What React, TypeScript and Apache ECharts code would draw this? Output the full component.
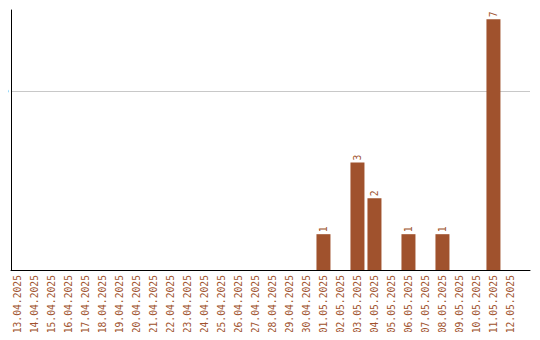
import React, { useEffect, useRef } from "react";
import * as echarts from "echarts";

const days: string[] = [
  "13.04.2025", "14.04.2025", "15.04.2025", "16.04.2025", "17.04.2025",
  "18.04.2025", "19.04.2025", "20.04.2025", "21.04.2025", "22.04.2025",
  "23.04.2025", "24.04.2025", "25.04.2025", "26.04.2025", "27.04.2025",
  "28.04.2025", "29.04.2025", "30.04.2025", "01.05.2025", "02.05.2025",
  "03.05.2025", "04.05.2025", "05.05.2025", "06.05.2025", "07.05.2025",
  "08.05.2025", "09.05.2025", "10.05.2025", "11.05.2025", "12.05.2025",
];
const counts: number[] = [
  0, 0, 0, 0, 0, 0, 0, 0, 0, 0,
  0, 0, 0, 0, 0, 0, 0, 0, 1, 0,
  3, 2, 0, 1, 0, 1, 0, 0, 7, 0,
];
const yTicks: number[] = [5];

const BAR = "#a0522d";
const FONT = "'DejaVu Sans Mono', monospace";

export default function App() {
  const ref = useRef<HTMLDivElement>(null);
  useEffect(() => {
    if (!ref.current) return;
    const chart = echarts.init(ref.current, null, { renderer: "svg" });
    const idx = days.map((_, i) => i);
    chart.setOption({
      animation: false,
      grid: { left: 11, right: 10, top: 10, bottom: 70, containLabel: false, outerBoundsMode: "none" },
      xAxis: {
        type: "value",
        min: -0.382,
        max: 30.15,
        splitLine: { show: false },
        axisTick: { show: false, customValues: idx },
        axisLine: { show: true, onZero: false, lineStyle: { color: "#000", width: 1 } },
        axisLabel: {
          customValues: idx,
          rotate: 90,
          margin: 5,
          color: BAR,
          fontFamily: FONT,
          fontSize: 9.7,
          formatter: (v: number) => days[Math.round(v)] ?? "",
        },
      },
      yAxis: {
        type: "value",
        min: 0,
        max: 7.26,
        axisLine: { show: true, onZero: false, lineStyle: { color: "#000", width: 1 } },
        axisTick: { show: false, customValues: yTicks },
        splitLine: { show: true, lineStyle: { color: "#c8c8c8", width: 1 } },
        axisLabel: {
          show: true,
          customValues: yTicks,
          rotate: 90,
          margin: 2,
          hideOverlap: false,
          color: "#000",
          fontFamily: FONT,
          fontSize: 7,
        },
      },
      series: [
        {
          type: "bar",
          barWidth: 14,
          itemStyle: { color: BAR },
          data: counts.map((c, i) => [i, c]),
          label: {
            show: true,
            position: "top",
            rotate: 90,
            align: "left",
            verticalAlign: "middle",
            distance: 2,
            color: BAR,
            fontFamily: FONT,
            fontSize: 9.7,
            formatter: (p: any) => (p.value[1] > 0 ? String(p.value[1]) : ""),
          },
        },
      ],
    });
    return () => chart.dispose();
  }, []);
  return <div ref={ref} style={{ width: 540, height: 340, margin: -8 }} />;
}
